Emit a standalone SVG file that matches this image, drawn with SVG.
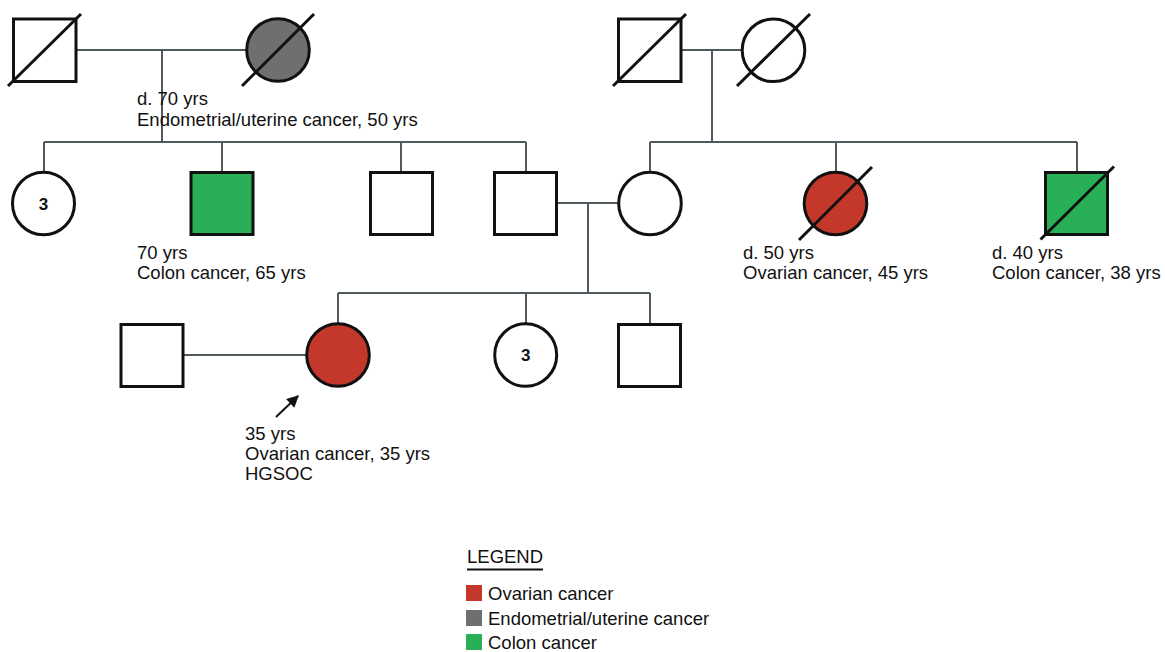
<svg xmlns="http://www.w3.org/2000/svg" width="1165" height="652" viewBox="0 0 1165 652">
<defs>
<style>
.sh{stroke:#111;stroke-width:3;fill:#fff}
.red{fill:#c4382b}
.gray{fill:#6e6f71}
.green{fill:#29b056}
.dg{stroke:#111;stroke-width:3;fill:none}
.cn{stroke:#4e5a5e;stroke-width:2;fill:none}
text{font-family:"Liberation Sans",Arial,sans-serif;font-size:18.5px;fill:#111}
.num{text-anchor:middle;font-size:17px;font-weight:bold}
</style>
<marker id="ah" viewBox="0 0 10 10" refX="9" refY="5" markerWidth="6.5" markerHeight="6" orient="auto" markerUnits="strokeWidth">
<path d="M0,0 L10,5 L0,10 z" fill="#111"/>
</marker>
</defs>
<rect width="1165" height="652" fill="#fff"/>
<g id="connectors">
<path class="cn" d="M76,50 H247 M162,50 V142 M44,142 H526 M44,142 V172 M222,142 V172 M401,142 V172 M526,142 V172"/>
<path class="cn" d="M681,50 H742 M712,50 V142 M650,142 H1077 M650,142 V172 M836,142 V172 M1077,142 V172"/>
<path class="cn" d="M557,203 H619 M588,203 V293 M338,293 H650 M338,293 V324 M526,293 V324 M650,293 V324"/>
<path class="cn" d="M183,355 H307"/>
<line x1="276" y1="417" x2="298" y2="396" stroke="#111" stroke-width="2" marker-end="url(#ah)"/>
</g>
<g id="gf1"><rect class="sh" x="13.5" y="19" width="62.5" height="62.5"/><line class="dg" x1="8" y1="86" x2="81" y2="14"/></g>
<g id="gm1"><circle class="sh gray" cx="278" cy="50" r="31.3"/><line class="dg" x1="242" y1="86" x2="314" y2="14"/></g>
<g id="gf2"><rect class="sh" x="618.5" y="19" width="62.5" height="62.5"/><line class="dg" x1="613" y1="86" x2="686" y2="14"/></g>
<g id="gm2"><circle class="sh" cx="773.5" cy="50.3" r="31.3"/><line class="dg" x1="737" y1="86" x2="810" y2="14"/></g>
<g id="gm1-label"><text x="137" y="105">d. 70 yrs</text><text x="137" y="126">Endometrial/uterine cancer, 50 yrs</text></g>
<g id="aunts"><ellipse class="sh" cx="43.5" cy="203.5" rx="31" ry="31.3"/><text class="num" x="43.5" y="209.5">3</text></g>
<g id="uncle1"><rect class="sh green" x="191" y="172.5" width="62" height="62"/><text x="137" y="259">70 yrs</text><text x="137" y="279">Colon cancer, 65 yrs</text></g>
<g id="uncle2"><rect class="sh" x="370.5" y="172.5" width="62" height="62"/></g>
<g id="father"><rect class="sh" x="494.5" y="172.5" width="62" height="62"/></g>
<g id="mother"><circle class="sh" cx="650" cy="203.5" r="31.3"/></g>
<g id="aunt2"><circle class="sh red" cx="835.5" cy="203.5" r="31.3"/><line class="dg" x1="799" y1="240" x2="872" y2="167"/><text x="743" y="259">d. 50 yrs</text><text x="743" y="279">Ovarian cancer, 45 yrs</text></g>
<g id="uncle3"><rect class="sh green" x="1045.5" y="172.5" width="62" height="62"/><line class="dg" x1="1040.5" y1="239.5" x2="1114" y2="166.5"/><text x="992" y="259">d. 40 yrs</text><text x="992" y="279">Colon cancer, 38 yrs</text></g>
<g id="spouse"><rect class="sh" x="121" y="324.5" width="62" height="62"/></g>
<g id="proband"><circle class="sh red" cx="338" cy="355" r="31.3"/><text x="245" y="440">35 yrs</text><text x="245" y="460">Ovarian cancer, 35 yrs</text><text x="245" y="480">HGSOC</text></g>
<g id="sisters"><ellipse class="sh" cx="525.7" cy="355" rx="31" ry="31.3"/><text class="num" x="525.7" y="361">3</text></g>
<g id="brother"><rect class="sh" x="618.5" y="324.5" width="62" height="62"/></g>
<g id="legend">
<text x="467" y="563">LEGEND</text>
<line x1="467" y1="569.5" x2="543" y2="569.5" stroke="#111" stroke-width="2"/>
<rect class="red" x="466" y="585" width="16" height="16"/><text x="488" y="600">Ovarian cancer</text>
<rect class="gray" x="466" y="610" width="16" height="16"/><text x="488" y="625">Endometrial/uterine cancer</text>
<rect class="green" x="466" y="634" width="16" height="16"/><text x="488" y="649">Colon cancer</text>
</g>
</svg>
